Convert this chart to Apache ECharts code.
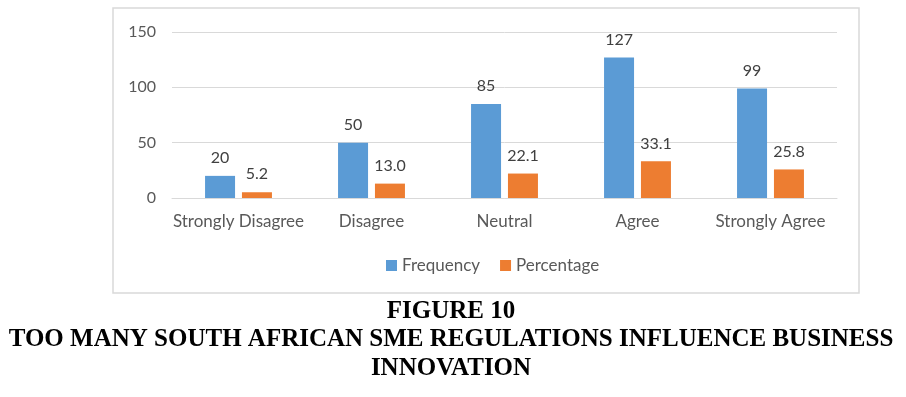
<!DOCTYPE html>
<html lang="en">
<head>
	<meta charset="UTF-8">
	<title>Figure 10</title>
	<script src="https://cdn.jsdelivr.net/npm/echarts@6/dist/echarts.min.js"></script>
	<style>
		body { margin: 0; background: #fff; }
		#main { width: 906px; height: 397px; }
	</style>
</head>
<body>
	<div id="main"></div>
	<script>
		var categories = ['Strongly Disagree', 'Disagree', 'Neutral', 'Agree', 'Strongly Agree'];
		var frequency = [20, 50, 85, 127, 99];
		var percentage = [5.2, 13.0, 22.1, 33.1, 25.8];
		var titleLines = ['FIGURE 10', 'TOO MANY SOUTH AFRICAN SME REGULATIONS INFLUENCE BUSINESS', 'INNOVATION'];

		var font = 'Lato, "Open Sans", sans-serif';
		var serif = '"Liberation Serif", "DejaVu Serif", serif';
		var myChart = echarts.init(document.getElementById('main'));

		var titleText = function (txt, y) {
			return {
				type: 'text', x: 451, y: y,
				style: { text: txt, font: 'bold 25px ' + serif, fill: '#000', align: 'center', verticalAlign: 'middle' }
			};
		};

		var option = {
			animation: false,
			color: ['#5b9bd5', '#ed7d31'],
			graphic: [
				{
					type: 'rect',
					shape: { x: 113, y: 8, width: 746, height: 285 },
					style: { fill: 'none', stroke: '#d9d9d9', lineWidth: 1.5 },
					z: -1
				},
				titleText(titleLines[0], 312),
				titleText(titleLines[1], 340),
				titleText(titleLines[2], 369)
			],
			legend: {
				data: ['Frequency', 'Percentage'],
				top: 252,
				left: 381,
				itemWidth: 11,
				itemHeight: 11,
				itemGap: 20,
				icon: 'rect',
				textStyle: { fontFamily: font, fontSize: 17, color: '#595959' }
			},
			grid: { left: 172, right: 69, top: 32, bottom: 199 },
			xAxis: {
				type: 'category',
				data: categories,
				axisLine: { lineStyle: { color: '#d9d9d9' } },
				axisTick: { show: false },
				axisLabel: { fontFamily: font, fontSize: 17, color: '#595959', margin: 15, interval: 0 }
			},
			yAxis: {
				type: 'value',
				min: 0,
				max: 150,
				interval: 50,
				axisLine: { show: false },
				axisTick: { show: false },
				splitLine: { lineStyle: { color: '#d9d9d9' } },
				axisLabel: { fontFamily: font, fontSize: 16, color: '#595959', margin: 16 }
			},
			series: [
				{
					name: 'Frequency',
					type: 'bar',
					data: frequency,
					barWidth: 30,
					barGap: '23%',
					label: { show: true, position: 'top', distance: 10, fontFamily: font, fontSize: 16, color: '#404040' }
				},
				{
					name: 'Percentage',
					type: 'bar',
					data: percentage,
					barWidth: 30,
					label: {
						show: true, position: 'top', distance: 10, fontFamily: font, fontSize: 16, color: '#404040',
						formatter: function (p) { return p.value.toFixed(1); }
					}
				}
			]
		};

		myChart.setOption(option);
	</script>
</body>
</html>
